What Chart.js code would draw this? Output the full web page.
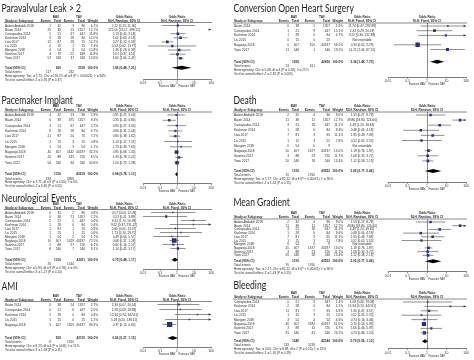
<!DOCTYPE html>
<html>
<head>
<meta charset="utf-8">
<script src="https://cdn.jsdelivr.net/npm/chart.js@4.4.0/dist/chart.umd.min.js"></script>
<style>
body { margin: 0; background: #fff; width: 474px; height: 360px; overflow: hidden; position: relative; }
canvas { position: absolute; }
</style>
</head>
<body>
<script>
const tickVals = [0.01, 0.1, 1, 10, 100];
const tickLabels = ['0.01', '0.1', '1', '10', '100'];

// Paravalvular Leak > 2
const paraStudies = ['Aalaei-Andabili 2018', 'Bauer 2014', 'Costopoulos 2014', 'Kochman 2014', 'Liao 2017', 'Liu 2015', 'Mangieri 2018', 'Sannino 2017', 'Yoon 2017'];
const paraBavEvents = [1, 25, 5, 9, 12, 0, 4, 4, 57];
const paraBavTotal = [32, 38, 21, 28, 87, 15, 54, 79, 546];
const paraTavEvents = [3, 15, 67, 18, 29, 1, 3, 22, 37];
const paraTavTotal = [96, 1357, 447, 84, 70, 25, 54, 639, 546];
const paraWeight = [6.1, 12.1, 11.8, 12.0, 12.2, 7.4, 10.8, 11.8, 12.6];
const paraOR = [1.12, 172.00, 1.13, 1.62, 0.27, 0.53, 1.36, 1.07, 1.60];
const paraLow = [0.13, 74.17, 0.40, 0.63, 0.12, 0.02, 0.29, 0.37, 1.04];
const paraHigh = [11.30, 399.12, 3.18, 4.18, 0.59, 13.77, 6.39, 3.11, 2.47];
const paraTotalN = [900, 3318];
const paraTotalOR = [1.86, 0.48, 7.23];
const paraTotalEvents = [117, 232];
const paraHet = 'Heterogeneity: Tau² = 1.75; Chi² = 135.25, df = 8 (P < 0.00001); I² = 94%';
const paraTest = 'Test for overall effect: Z = 0.91 (P = 0.37)';

// Conversion Open Heart Surgery
const convStudies = ['Bauer 2014', 'Costopoulos 2014', 'Kochman 2014', 'Liu 2015', 'Nagaraja 2018', 'Yoon 2017'];
const convBavEvents = [0, 1, 1, 0, 0, 11];
const convBavTotal = [38, 21, 28, 15, 407, 546];
const convTavEvents = [1, 9, 0, 0, 150, 1];
const convTavTotal = [1357, 447, 84, 25, 40197, 546];
const convWeight = [1.6, 15.1, 4.7, null, 59.2, 19.2];
const convOR = [11.74, 2.43, 9.22, null, 0.33, 11.21];
const convLow = [0.47, 0.29, 0.36, null, 0.02, 1.44];
const convHigh = [292.89, 20.19, 232.89, null, 5.29, 87.10];
const convTotalN = [1055, 42656];
const convTotalOR = [3.34, 1.44, 7.75];
const convTotalEvents = [13, 161];
const convHet = 'Heterogeneity: Chi² = 5.08, df = 4 (P = 0.28); I² = 21%';
const convTest = 'Test for overall effect: Z = 2.82 (P = 0.005)';

// Pacemaker Implant
const paceStudies = ['Aalaei-Andabili 2018', 'Bauer 2014', 'Costopoulos 2014', 'Kochman 2014', 'Liao 2017', 'Liu 2015', 'Mangieri 2018', 'Nagaraja 2018', 'Sannino 2017', 'Yoon 2017'];
const paceBavEvents = [4, 6, 3, 8, 21, 2, 5, 40, 20, 54];
const paceBavTotal = [32, 38, 21, 28, 87, 15, 54, 407, 88, 546];
const paceTavEvents = [13, 475, 67, 28, 20, 3, 3, 4142, 133, 64];
const paceTavTotal = [96, 1357, 447, 84, 70, 25, 54, 40197, 726, 546];
const paceWeight = [2.9, 9.4, 2.2, 4.7, 7.2, 0.8, 1.1, 32.2, 8.5, 30.6];
const paceOR = [0.91, 0.35, 0.95, 0.80, 0.80, 1.13, 1.73, 0.95, 1.33, 1.00];
const paceLow = [0.27, 0.14, 0.27, 0.31, 0.39, 0.17, 0.39, 0.68, 0.78, 0.72];
const paceHigh = [3.03, 0.84, 3.30, 2.04, 1.62, 7.57, 7.65, 1.32, 2.25, 1.38];
const paceTotalN = [1316, 43619];
const paceTotalOR = [0.94, 0.78, 1.13];
const paceTotalEvents = [193, 4969];
const paceHet = 'Heterogeneity: Chi² = 7.71, df = 9 (P = 0.56); I² = 0%';
const paceTest = 'Test for overall effect: Z = 0.65 (P = 0.52)';

// Death
const deathStudies = ['Aalaei-Andabili 2018', 'Bauer 2014', 'Costopoulos 2014', 'Kochman 2014', 'Liao 2017', 'Liu 2015', 'Mangieri 2018', 'Nagaraja 2018', 'Sannino 2017', 'Yoon 2017'];
const deathBavEvents = [2, 11, 3, 1, 7, 1, 0, 20, 3, 20];
const deathBavTotal = [32, 38, 21, 28, 81, 15, 54, 407, 88, 546];
const deathTavEvents = [4, 11, 18, 6, 3, 3, 0, 1677, 23, 18];
const deathTavTotal = [96, 1357, 447, 84, 65, 25, 9, 40197, 726, 546];
const deathWeight = [9.0, 12.7, 11.2, 9.4, 11.1, 7.8, null, 13.0, 11.7, 13.4];
const deathOR = [1.53, 49.86, 4.49, 0.48, 1.95, 0.52, null, 1.19, 1.08, 1.12];
const deathLow = [0.27, 19.80, 1.20, 0.06, 0.49, 0.05, null, 0.76, 0.32, 0.58];
const deathHigh = [8.79, 124.60, 16.81, 4.18, 7.89, 5.55, null, 1.87, 3.72, 2.13];
const deathTotalN = [1310, 43552];
const deathTotalOR = [2.05, 0.77, 5.46];
const deathTotalEvents = [70, 1760];
const deathHet = 'Heterogeneity: Tau² = 1.77; Chi² = 82.22, df = 8 (P < 0.00001); I² = 90%';
const deathTest = 'Test for overall effect: Z = 1.43 (P = 0.15)';

// Neurological Events
const neuroStudies = ['Aalaei-Andabili 2018', 'Bauer 2014', 'Costopoulos 2014', 'Kochman 2014', 'Liao 2017', 'Liu 2015', 'Mangieri 2018', 'Nagaraja 2018', 'Sannino 2017', 'Yoon 2017'];
const neuroBavEvents = [0, 0, 2, 1, 1, 1, 1, 10, 2, 8];
const neuroBavTotal = [32, 38, 21, 28, 87, 15, 54, 407, 88, 546];
const neuroTavEvents = [2, 71, 5, 0, 1, 1, 2, 1429, 27, 7];
const neuroTavTotal = [96, 1357, 447, 84, 70, 25, 54, 40197, 726, 546];
const neuroWeight = [0.8, 7.2, 0.6, 0.4, 0.9, 0.6, 1.7, 72.5, 6.2, 9.1];
const neuroOR = [0.57, 0.23, 9.31, 9.22, 0.80, 1.71, 0.49, 0.68, 0.60, 1.14];
const neuroLow = [0.03, 0.01, 1.70, 0.37, 0.05, 0.10, 0.04, 0.37, 0.14, 0.41];
const neuroHigh = [12.09, 3.89, 50.99, 231.22, 13.07, 29.71, 5.57, 1.28, 2.57, 3.17];
const neuroTotalN = [1316, 43611];
const neuroTotalOR = [0.75, 0.48, 1.17];
const neuroTotalEvents = [26, 1544];
const neuroHet = 'Heterogeneity: Chi² = 5.83, df = 9 (P = 0.76); I² = 0%';
const neuroTest = 'Test for overall effect: Z = 1.27 (P = 0.20)';

// Mean Gradient (the source figure repeats the Death table here)
const gradStudies = deathStudies.slice();
const gradBavEvents = deathBavEvents.slice();
const gradBavTotal = deathBavTotal.slice();
const gradTavEvents = deathTavEvents.slice();
const gradTavTotal = deathTavTotal.slice();
const gradWeight = deathWeight.slice();
const gradOR = deathOR.slice();
const gradLow = deathLow.slice();
const gradHigh = deathHigh.slice();

// AMI
const amiStudies = ['Bauer 2014', 'Costopoulos 2014', 'Kochman 2014', 'Liu 2015', 'Nagaraja 2018'];
const amiBavEvents = [0, 0, 2, 1, 5];
const amiBavTotal = [38, 21, 28, 15, 407];
const amiTavEvents = [14, 6, 0, 0, 1305];
const amiTavTotal = [1357, 447, 84, 25, 40197];
const amiWeight = [2.7, 2.0, 0.6, 1.2, 93.3];
const amiOR = [1.30, 1.58, 15.94, 5.28, 0.37];
const amiLow = [0.07, 0.09, 0.74, 0.20, 0.15];
const amiHigh = [20.54, 28.88, 342.61, 138.11, 0.90];
const amiTotalN = [509, 42110];
const amiTotalOR = [0.56, 0.27, 1.15];
const amiTotalEvents = [8, 1325];
const amiHet = 'Heterogeneity: Chi² = 8.23, df = 4 (P = 0.08); I² = 51%';
const amiTest = 'Test for overall effect: Z = 1.58 (P = 0.11)';

// Bleeding
const bleedStudies = ['Costopoulos 2014', 'Kochman 2014', 'Liao 2017', 'Liu 2015', 'Mangieri 2018', 'Nagaraja 2018', 'Sannino 2017', 'Yoon 2017'];
const bleedBavEvents = [0, 2, 11, 1, 3, 40, 3, 31];
const bleedBavTotal = [21, 28, 81, 15, 54, 407, 88, 546];
const bleedTavEvents = [9, 0, 7, 3, 4, 5183, 11, 41];
const bleedTavTotal = [447, 84, 65, 25, 54, 40197, 726, 546];
const bleedWeight = [1.4, 1.2, 6.9, 2.0, 4.6, 51.0, 6.7, 26.2];
const bleedOR = [1.08, 15.94, 1.30, 0.52, 0.74, 0.70, 1.66, 0.74];
const bleedLow = [0.06, 0.74, 0.47, 0.05, 0.16, 0.53, 0.46, 0.46];
const bleedHigh = [19.09, 342.61, 3.57, 5.55, 3.46, 0.93, 5.97, 1.20];
const bleedTotalN = [1240, 42144];
const bleedTotalOR = [0.79, 0.56, 1.12];
const bleedTotalEvents = [119, 5218];
const bleedHet = 'Heterogeneity: Tau² = 0.05; Chi² = 8.99, df = 7 (P = 0.25); I² = 22%';
const bleedTest = 'Test for overall effect: Z = 1.30 (P = 0.19)';

// column layouts for the two columns of panels
const leftCols = { x: 0, cw: 237, name: 5, bavE: 51, bavN: 61, tavE: 74, tavN: 85, wt: 98, or: 124, bav: 56, tav: 79, yw: 143, pr: 26 };
const rightCols = { x: 232, cw: 242, name: 2, bavE: 57, bavN: 67, tavE: 83, tavN: 98, wt: 111, or: 130, bav: 62, tav: 90, yw: 156, pr: 8 };

const TEXT_K = 0.85;
const TITLE_K = 0.78;
const FONT = 'Liberation Sans';
const INK = '#2a2a2a';

function txt(ctx, s, x, y, align, font, k) {
  ctx.save();
  ctx.translate(x, y);
  ctx.scale(k, 1);
  ctx.font = font;
  ctx.textAlign = align;
  ctx.textBaseline = 'middle';
  ctx.fillText(s, 0, 0);
  ctx.restore();
}

function fmtOR(o, l, h) {
  if (o == null) return 'Not estimable';
  return o.toFixed(2) + ' [' + l.toFixed(2) + ', ' + h.toFixed(2) + ']';
}

function arrow(ctx, x, y, dir) {
  ctx.beginPath();
  ctx.moveTo(x, y);
  ctx.lineTo(x - dir * 2.4, y - 1.2);
  ctx.lineTo(x - dir * 2.4, y + 1.2);
  ctx.closePath();
  ctx.fill();
}

const forestPlugin = {
  id: 'forest',
  afterDatasetsDraw(chart) {
    const p = chart.canvas._panel;
    const d = p.d;
    const ctx = chart.ctx, xs = chart.scales.x, ys = chart.scales.y, ca = chart.chartArea;
    ctx.save();
    ctx.fillStyle = '#333';
    d.or.forEach((o, i) => {
      if (o == null) return;
      const y = ys.getPixelForValue(i);
      if (d.high[i] > xs.max) arrow(ctx, ca.right, y, 1);
      if (d.low[i] < xs.min) arrow(ctx, ca.left, y, -1);
    });
    // pooled diamond
    const ty = ys.getPixelForValue(p.lay.totalRow);
    ctx.fillStyle = '#000';
    ctx.beginPath();
    ctx.moveTo(xs.getPixelForValue(d.totalOR[1]), ty);
    ctx.lineTo(xs.getPixelForValue(d.totalOR[0]), ty - 2);
    ctx.lineTo(xs.getPixelForValue(d.totalOR[2]), ty);
    ctx.lineTo(xs.getPixelForValue(d.totalOR[0]), ty + 2);
    ctx.closePath();
    ctx.fill();
    ctx.restore();
  },
  afterDraw(chart) {
    const p = chart.canvas._panel;
    const d = p.d, c = p.cols, lay = p.lay;
    const ctx = chart.ctx, xs = chart.scales.x, ys = chart.scales.y, ca = chart.chartArea;
    const fs = 3.7;
    const reg = fs + 'px "' + FONT + '"';
    const bold = 'bold ' + fs + 'px "' + FONT + '"';
    const x1 = xs.getPixelForValue(1);
    ctx.save();
    ctx.fillStyle = '#1c1c1c';
    txt(ctx, d.title, 1.5, 8, 'left', '11px Lato', TITLE_K);
    ctx.fillStyle = INK;
    const r0 = ys.getPixelForValue(0);
    const h1 = r0 - 9, h2 = r0 - 5;
    txt(ctx, 'BAV', c.bav, h1, 'center', bold, TEXT_K);
    txt(ctx, 'TAV', c.tav, h1, 'center', bold, TEXT_K);
    txt(ctx, 'Odds Ratio', c.or, h1, 'center', bold, TEXT_K);
    txt(ctx, 'Odds Ratio', x1, h1, 'center', bold, TEXT_K);
    txt(ctx, 'Study or Subgroup', c.name, h2, 'left', bold, TEXT_K);
    txt(ctx, 'Events', c.bavE, h2, 'right', bold, TEXT_K);
    txt(ctx, 'Total', c.bavN, h2, 'right', bold, TEXT_K);
    txt(ctx, 'Events', c.tavE, h2, 'right', bold, TEXT_K);
    txt(ctx, 'Total', c.tavN, h2, 'right', bold, TEXT_K);
    txt(ctx, 'Weight', c.wt, h2, 'right', bold, TEXT_K);
    txt(ctx, d.method, c.or, h2, 'center', bold, TEXT_K);
    txt(ctx, d.method, x1, h2, 'center', bold, TEXT_K);
    ctx.strokeStyle = '#111';
    ctx.lineWidth = 0.5;
    ctx.beginPath();
    ctx.moveTo(c.name - 1, ca.top);
    ctx.lineTo(ca.right + 1, ca.top);
    ctx.stroke();

    d.studies.forEach((s, i) => {
      const y = ys.getPixelForValue(i);
      txt(ctx, s, c.name, y, 'left', reg, TEXT_K);
      txt(ctx, String(d.bavE[i]), c.bavE, y, 'right', reg, TEXT_K);
      txt(ctx, String(d.bavN[i]), c.bavN, y, 'right', reg, TEXT_K);
      txt(ctx, String(d.tavE[i]), c.tavE, y, 'right', reg, TEXT_K);
      txt(ctx, String(d.tavN[i]), c.tavN, y, 'right', reg, TEXT_K);
      if (d.weight[i] != null) txt(ctx, d.weight[i].toFixed(1) + '%', c.wt, y, 'right', reg, TEXT_K);
      txt(ctx, fmtOR(d.or[i], d.low[i], d.high[i]), c.or, y, 'center', reg, TEXT_K);
    });

    const ty = ys.getPixelForValue(lay.totalRow);
    txt(ctx, 'Total (95% CI)', c.name, ty, 'left', bold, TEXT_K);
    txt(ctx, String(d.totalN[0]), c.bavN, ty, 'right', bold, TEXT_K);
    txt(ctx, String(d.totalN[1]), c.tavN, ty, 'right', bold, TEXT_K);
    txt(ctx, '100.0%', c.wt, ty, 'right', bold, TEXT_K);
    txt(ctx, fmtOR(d.totalOR[0], d.totalOR[1], d.totalOR[2]), c.or, ty, 'center', bold, TEXT_K);
    txt(ctx, 'Total events', c.name, ty + 4.2, 'left', reg, TEXT_K);
    txt(ctx, String(d.totalEvents[0]), c.bavE, ty + 4.2, 'right', reg, TEXT_K);
    txt(ctx, String(d.totalEvents[1]), c.tavE, ty + 4.2, 'right', reg, TEXT_K);
    txt(ctx, d.het, c.name, ty + 8.1, 'left', reg, TEXT_K);
    txt(ctx, d.test, c.name, ty + 12, 'left', reg, TEXT_K);

    const fy = ca.bottom + 7;
    const small = '3.4px "' + FONT + '"';
    txt(ctx, 'Favours BAV', x1 - 1.5, fy, 'right', small, TEXT_K);
    txt(ctx, 'Favours TAV', x1 + 1.5, fy, 'left', small, TEXT_K);
    ctx.restore();
  }
};

function makePanel(d, lay, c) {
  const axisY = lay.row0 + lay.axisRow * lay.pitch;
  const h = Math.round(axisY + 10 - lay.top);
  const cv = document.createElement('canvas');
  cv.width = c.cw;
  cv.height = h;
  cv.style.left = c.x + 'px';
  cv.style.top = lay.top + 'px';
  document.body.appendChild(cv);
  cv._panel = { d, lay, cols: c };

  const areaTop = lay.row0 - 3 - lay.top;
  const areaBottom = axisY - lay.top;
  const XH = 8;

  const datasets = [];
  const keep = [];
  d.or.forEach((o, i) => {
    if (o == null) return;
    keep.push(i);
    datasets.push({
      data: [{ x: d.low[i], y: i }, { x: d.high[i], y: i }],
      showLine: true, borderColor: '#444', borderWidth: 0.6, pointRadius: 0
    });
  });
  datasets.push({
    data: keep.map(i => ({ x: d.or[i], y: i })),
    pointStyle: 'rect',
    pointRadius: keep.map(i => 0.8 + 0.3 * Math.sqrt(d.weight[i])),
    backgroundColor: '#1e2a96',
    borderWidth: 0
  });

  new Chart(cv, {
    type: 'scatter',
    data: { datasets },
    options: {
      responsive: false,
      animation: false,
      devicePixelRatio: 1,
      events: [],
      layout: { padding: { top: areaTop, bottom: h - areaBottom - XH, left: 0, right: c.pr } },
      plugins: { legend: { display: false }, tooltip: { enabled: false } },
      scales: {
        x: {
          type: 'logarithmic', min: 0.01, max: 100,
          afterBuildTicks: s => { s.ticks = tickVals.map(v => ({ value: v })); },
          afterFit: s => { s.height = XH; },
          ticks: {
            callback: (v, i) => tickLabels[i],
            font: { size: 3.4, family: FONT }, color: '#333', padding: 0.5,
            maxRotation: 0, autoSkip: false
          },
          grid: {
            color: g => (g.tick && g.tick.value === 1) ? '#444' : 'rgba(0,0,0,0)',
            lineWidth: 0.6, tickLength: 1.5, tickColor: '#222', tickWidth: 0.5
          },
          border: { display: true, color: '#222', width: 0.6 }
        },
        y: {
          type: 'linear', reverse: true, min: -3 / lay.pitch, max: lay.axisRow,
          afterFit: s => { s.width = c.yw; },
          ticks: { display: false }, grid: { display: false }, border: { display: false }
        }
      }
    },
    plugins: [forestPlugin]
  });
}

function panel(title, method, st, be, bn, te, tn, w, o, l, hi, totN, totOR, totEv, het, test) {
  return { title, method, studies: st, bavE: be, bavN: bn, tavE: te, tavN: tn, weight: w, or: o, low: l, high: hi,
    totalN: totN, totalOR: totOR, totalEvents: totEv, het, test };
}

makePanel(panel('Paravalvular Leak > 2', 'M-H, Random, 95% CI', paraStudies, paraBavEvents, paraBavTotal, paraTavEvents, paraTavTotal,
  paraWeight, paraOR, paraLow, paraHigh, paraTotalN, paraTotalOR, paraTotalEvents, paraHet, paraTest),
  { top: 0, row0: 25.5, pitch: 4.1, totalRow: 10.3, axisRow: 13.1 }, leftCols);

makePanel(panel('Conversion Open Heart Surgery', 'M-H, Fixed, 95% CI', convStudies, convBavEvents, convBavTotal, convTavEvents, convTavTotal,
  convWeight, convOR, convLow, convHigh, convTotalN, convTotalOR, convTotalEvents, convHet, convTest),
  { top: 0, row0: 26, pitch: 4.7, totalRow: 7.6, axisRow: 10.9 }, rightCols);

makePanel(panel('Pacemaker Implant', 'M-H, Fixed, 95% CI', paceStudies, paceBavEvents, paceBavTotal, paceTavEvents, paceTavTotal,
  paceWeight, paceOR, paceLow, paceHigh, paceTotalN, paceTotalOR, paceTotalEvents, paceHet, paceTest),
  { top: 92, row0: 115, pitch: 5.3, totalRow: 11.2, axisRow: 13.0 }, leftCols);

makePanel(panel('Death', 'M-H, Random, 95% CI', deathStudies, deathBavEvents, deathBavTotal, deathTavEvents, deathTavTotal,
  deathWeight, deathOR, deathLow, deathHigh, deathTotalN, deathTotalOR, deathTotalEvents, deathHet, deathTest),
  { top: 92, row0: 115, pitch: 5.1, totalRow: 11.0, axisRow: 13.2 }, rightCols);

makePanel(panel('Neurological Events', 'M-H, Fixed, 95% CI', neuroStudies, neuroBavEvents, neuroBavTotal, neuroTavEvents, neuroTavTotal,
  neuroWeight, neuroOR, neuroLow, neuroHigh, neuroTotalN, neuroTotalOR, neuroTotalEvents, neuroHet, neuroTest),
  { top: 190, row0: 212.5, pitch: 4.0, totalRow: 11.8, axisRow: 14.2 }, leftCols);

makePanel(panel('Mean Gradient', 'M-H, Random, 95% CI', gradStudies, gradBavEvents, gradBavTotal, gradTavEvents, gradTavTotal,
  gradWeight, gradOR, gradLow, gradHigh, deathTotalN, deathTotalOR, deathTotalEvents, deathHet, deathTest),
  { top: 194, row0: 222, pitch: 3.7, totalRow: 10.6, axisRow: 13.5 }, rightCols);

makePanel(panel('AMI', 'M-H, Fixed, 95% CI', amiStudies, amiBavEvents, amiBavTotal, amiTavEvents, amiTavTotal,
  amiWeight, amiOR, amiLow, amiHigh, amiTotalN, amiTotalOR, amiTotalEvents, amiHet, amiTest),
  { top: 278, row0: 304.5, pitch: 5.0, totalRow: 6.7, axisRow: 8.5 }, leftCols);

makePanel(panel('Bleeding', 'M-H, Random, 95% CI', bleedStudies, bleedBavEvents, bleedBavTotal, bleedTavEvents, bleedTavTotal,
  bleedWeight, bleedOR, bleedLow, bleedHigh, bleedTotalN, bleedTotalOR, bleedTotalEvents, bleedHet, bleedTest),
  { top: 277, row0: 302, pitch: 4.4, totalRow: 8.9, axisRow: 10.6 }, rightCols);
</script>
</body>
</html>
